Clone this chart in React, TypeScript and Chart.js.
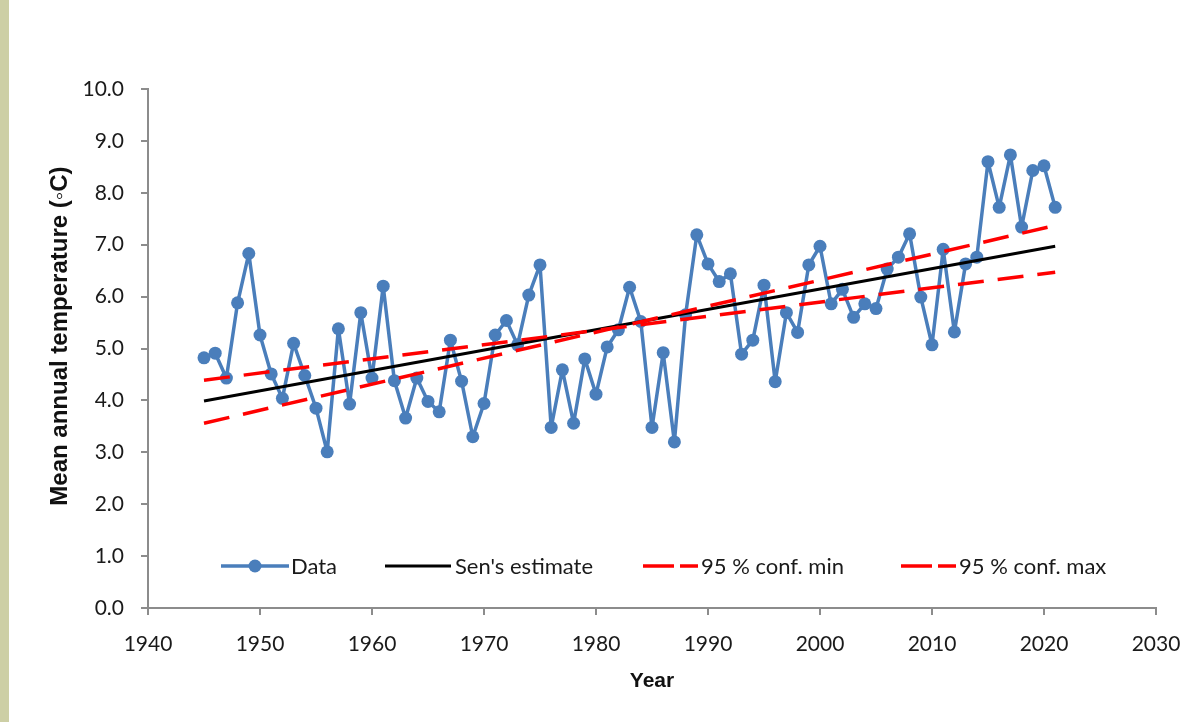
import React, { useEffect, useRef } from "react";
import { Chart, registerables } from "chart.js";

Chart.register(...registerables);

const years = [
  1945, 1946, 1947, 1948, 1949, 1950, 1951, 1952, 1953, 1954, 1955, 1956, 1957, 1958, 1959, 1960,
  1961, 1962, 1963, 1964, 1965, 1966, 1967, 1968, 1969, 1970, 1971, 1972, 1973, 1974, 1975, 1976,
  1977, 1978, 1979, 1980, 1981, 1982, 1983, 1984, 1985, 1986, 1987, 1988, 1989, 1990, 1991, 1992,
  1993, 1994, 1995, 1996, 1997, 1998, 1999, 2000, 2001, 2002, 2003, 2004, 2005, 2006, 2007, 2008,
  2009, 2010, 2011, 2012, 2013, 2014, 2015, 2016, 2017, 2018, 2019, 2020, 2021,
];

const temperature = [
  4.82, 4.91, 4.43, 5.88, 6.83, 5.26, 4.51, 4.04, 5.1, 4.48, 3.85, 3.01, 5.38, 3.93, 5.69, 4.43,
  6.2, 4.38, 3.66, 4.43, 3.98, 3.78, 5.16, 4.37, 3.3, 3.94, 5.26, 5.54, 5.07, 6.03, 6.61, 3.48,
  4.59, 3.56, 4.8, 4.12, 5.03, 5.36, 6.18, 5.52, 3.48, 4.92, 3.2, 5.65, 7.19, 6.63, 6.29, 6.44,
  4.89, 5.16, 6.22, 4.36, 5.69, 5.31, 6.61, 6.97, 5.86, 6.14, 5.6, 5.86, 5.77, 6.53, 6.76, 7.21,
  5.99, 5.07, 6.91, 5.32, 6.63, 6.76, 8.6, 7.72, 8.73, 7.34, 8.43, 8.52, 7.72,
];

const trendYears = [1945, 2021];
const senEstimate = [3.99, 6.97];
const confMin = [4.39, 6.47];
const confMax = [3.56, 7.37];

const seriesLabels = ["Data", "Sen's estimate", "95 % conf. min", "95 % conf. max"];
const xTitle = "Year";
const yTitle = "Mean annual temperature (\u25E6C)";

const BLUE = "#4A7EBB";
const RED = "#FF0000";
const AXIS = "#8C8C8C";
const TEXT = "#1a1a1a";
const TICK_FONT = "Lato";
const TITLE_FONT = "Liberation Sans";

const excelLegend = {
  id: "excelLegend",
  afterDraw(chart: any) {
    const { ctx, chartArea } = chart;
    const y = chartArea.bottom - 42;
    ctx.save();
    ctx.font = `22px ${TICK_FONT}`;
    ctx.textBaseline = "middle";
    ctx.textAlign = "left";
    const items = [
      { kind: "data", start: 73, len: 68, gap: 2 },
      { kind: "sen", start: 237, len: 66, gap: 4 },
      { kind: "dash", start: 495, len: 55, gap: 3 },
      { kind: "dash", start: 753, len: 55, gap: 3 },
    ];
    items.forEach((it, i) => {
      const label = chart.data.datasets[i].label;
      let x = chartArea.left + it.start;
      ctx.lineCap = "butt";
      if (it.kind === "data") {
        ctx.strokeStyle = BLUE;
        ctx.lineWidth = 3.5;
        ctx.beginPath();
        ctx.moveTo(x, y);
        ctx.lineTo(x + it.len, y);
        ctx.stroke();
        ctx.fillStyle = BLUE;
        ctx.beginPath();
        ctx.arc(x + it.len / 2, y, 6.5, 0, Math.PI * 2);
        ctx.fill();
      } else if (it.kind === "sen") {
        ctx.strokeStyle = "#000";
        ctx.lineWidth = 3;
        ctx.beginPath();
        ctx.moveTo(x, y);
        ctx.lineTo(x + it.len, y);
        ctx.stroke();
      } else {
        ctx.strokeStyle = RED;
        ctx.lineWidth = 3.5;
        ctx.beginPath();
        ctx.moveTo(x, y);
        ctx.lineTo(x + 31, y);
        ctx.moveTo(x + 37, y);
        ctx.lineTo(x + it.len, y);
        ctx.stroke();
      }
      x += it.len + it.gap;
      ctx.fillStyle = TEXT;
      ctx.fillText(label, x, y + 1);
    });

    ctx.save();
    ctx.translate(60, chartArea.top + (chartArea.bottom - chartArea.top) * 0.476);
    ctx.rotate(-Math.PI / 2);
    ctx.font = `bold 24px ${TITLE_FONT}`;
    ctx.fillStyle = "#111";
    ctx.textAlign = "center";
    ctx.textBaseline = "middle";
    ctx.fillText(yTitle, 0, 0);
    ctx.restore();

    ctx.restore();
  },
};

export default function App() {
  const ref = useRef<HTMLCanvasElement | null>(null);

  useEffect(() => {
    if (!ref.current) return;
    const toPoints = (xs: number[], ys: number[]) => xs.map((x, i) => ({ x, y: ys[i] }));
    const chart = new Chart(ref.current, {
      type: "line",
      data: {
        datasets: [
          {
            label: seriesLabels[0],
            data: toPoints(years, temperature),
            borderColor: BLUE,
            backgroundColor: BLUE,
            borderWidth: 3.5,
            borderJoinStyle: "round",
            pointRadius: 6.5,
            pointBackgroundColor: BLUE,
            pointBorderColor: BLUE,
            pointBorderWidth: 0,
            tension: 0,
            order: 10,
          },
          {
            label: seriesLabels[1],
            data: toPoints(trendYears, senEstimate),
            borderColor: "#000",
            borderWidth: 3,
            pointRadius: 0,
            order: 5,
          },
          {
            label: seriesLabels[2],
            data: toPoints(trendYears, confMin),
            borderColor: RED,
            borderWidth: 3.5,
            borderDash: [26, 14],
            pointRadius: 0,
            order: 2,
          },
          {
            label: seriesLabels[3],
            data: toPoints(trendYears, confMax),
            borderColor: RED,
            borderWidth: 3.5,
            borderDash: [26, 14],
            pointRadius: 0,
            order: 1,
          },
        ],
      },
      options: {
        responsive: false,
        animation: false,
        layout: { padding: { left: 40, right: 32, top: 89, bottom: 28 } },
        plugins: { legend: { display: false }, tooltip: { enabled: false } },
        scales: {
          x: {
            type: "linear",
            min: 1940,
            max: 2030,
            ticks: {
              stepSize: 10,
              font: { family: TICK_FONT, size: 21 },
              color: TEXT,
              padding: 17,
              maxRotation: 0,
              callback: (v: any) => String(v),
            },
            grid: { drawOnChartArea: false, tickLength: 7, color: AXIS, lineWidth: 2 },
            border: { color: AXIS, width: 2 },
            title: {
              display: true,
              text: xTitle,
              font: { family: TITLE_FONT, size: 21, weight: "bold" },
              color: "#111",
              padding: 0,
            },
            afterFit: (s: any) => {
              s.height = 86;
              s.paddingLeft = 0;
              s.paddingRight = 0;
            },
          },
          y: {
            type: "linear",
            min: 0,
            max: 10,
            ticks: {
              stepSize: 1,
              font: { family: TICK_FONT, size: 21 },
              color: TEXT,
              padding: 17,
              callback: (v: any) => Number(v).toFixed(1),
            },
            grid: { drawOnChartArea: false, tickLength: 7, color: AXIS, lineWidth: 2 },
            border: { color: AXIS, width: 2 },
            title: { display: false },
            afterFit: (s: any) => {
              s.width = 108;
            },
          },
        },
      },
      plugins: [excelLegend],
    } as any);
    return () => chart.destroy();
  }, []);

  return (
    <div style={{ position: "absolute", left: 0, top: 0, width: 1188, height: 722, background: "#fff" }}>
      <canvas ref={ref} width={1188} height={722} style={{ display: "block" }} />
      <div
        style={{
          position: "absolute",
          left: 0,
          top: 0,
          width: 9,
          height: 722,
          background: "#CDCFA5",
        }}
      />
    </div>
  );
}
